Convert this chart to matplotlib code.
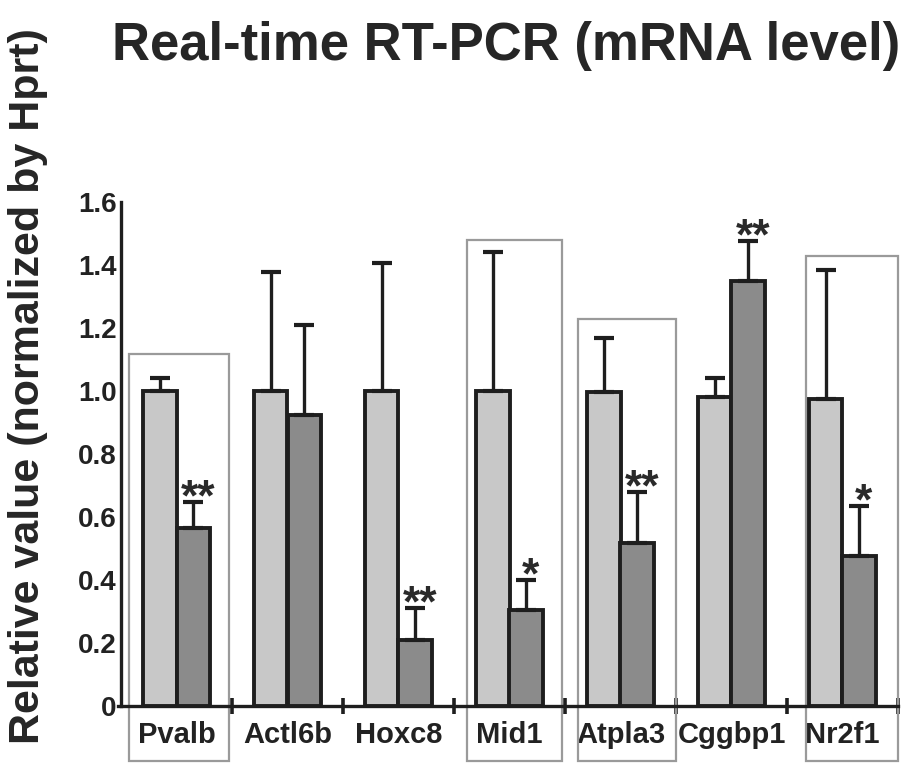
import matplotlib
matplotlib.use("Agg")
import matplotlib.pyplot as plt
from matplotlib.patches import Rectangle
import numpy as np

plt.rcParams['font.family'] = ['Liberation Sans', 'DejaVu Sans']

# ---- data ----
genes = ['Pvalb', 'Actl6b', 'Hoxc8', 'Mid1', 'Atpla3', 'Cggbp1', 'Nr2f1']
control = [1.00, 1.00, 1.00, 1.00, 0.997, 0.98, 0.975]
control_err = [0.04, 0.378, 0.405, 0.44, 0.17, 0.06, 0.41]
treated = [0.565, 0.924, 0.21, 0.305, 0.517, 1.35, 0.476]
treated_err = [0.083, 0.285, 0.10, 0.095, 0.163, 0.126, 0.16]
significance = ['**', '', '**', '*', '**', '**', '*']
yticks = [0, 0.2, 0.4, 0.6, 0.8, 1.0, 1.2, 1.4, 1.6]
ytick_labels = ['0', '0.2', '0.4', '0.6', '0.8', '1.0', '1.2', '1.4', '1.6']

# highlighted genes (frames)
boxed = ['Pvalb', 'Mid1', 'Atpla3', 'Nr2f1']
box_top = [1.117, 1.479, 1.229, 1.429]
box_left = [-0.43, -0.38, -0.38, -0.33]
box_right = [0.47, 0.47, 0.50, 0.50]

# ---- figure ----
fig = plt.figure(figsize=(9.10, 7.64), dpi=100)
ax = fig.add_axes([121 / 910, 58 / 764, (898 - 121) / 910, (706 - 202) / 764])

x = np.arange(len(genes))
w = 0.305
edge = '#1e1e1e'
ax.bar(x - w / 2, control, width=w, color='#c8c8c8', edgecolor=edge, linewidth=2.8, zorder=3)
ax.bar(x + w / 2, treated, width=w, color='#8b8b8b', edgecolor=edge, linewidth=2.8, zorder=3)

zeros = np.zeros(len(genes))
ax.errorbar(x - w / 2, control, yerr=[zeros, control_err], fmt='none', ecolor=edge,
            elinewidth=2.4, capsize=7, capthick=3, zorder=4)
ax.errorbar(x + w / 2, treated, yerr=[zeros, treated_err], fmt='none', ecolor=edge,
            elinewidth=2.4, capsize=7, capthick=3, zorder=4)

for xi, t, e, s in zip(x, treated, treated_err, significance):
    if s:
        ax.annotate(s, xy=(xi + w / 2 + 0.04, t + e), xytext=(0, -6), textcoords='offset points',
                    ha='center', va='baseline', fontsize=32, fontweight='bold',
                    color='#2a2a2a', zorder=5)

for g, top, l, r in zip(boxed, box_top, box_left, box_right):
    xi = genes.index(g)
    ax.add_patch(Rectangle((xi + l, -0.175), r - l, top + 0.175, fill=False,
                           edgecolor='#9a9a9a', linewidth=1.6, clip_on=False, zorder=2))

ax.set_xlim(-0.5, len(genes) - 0.5)
ax.set_ylim(0, 1.6)
ax.spines['top'].set_visible(False)
ax.spines['right'].set_visible(False)
for sp in ('left', 'bottom'):
    ax.spines[sp].set_linewidth(2.4)
    ax.spines[sp].set_color(edge)
ax.spines['bottom'].set_bounds(-0.53, len(genes) - 0.5)

ax.set_yticks(yticks)
ax.set_yticklabels(ytick_labels, fontsize=20, fontweight='bold', color='#222222')
ax.set_yticks([1.6], minor=True)
ax.tick_params(axis='y', which='major', length=0, pad=3)
ax.tick_params(axis='y', which='minor', direction='in', length=6, width=2, color=edge)

ax.set_xticks(x)
ax.set_xticklabels(genes, fontsize=21, fontweight='bold', color='#222222')
ax.set_xticks(np.arange(len(genes)) + 0.5, minor=True)
ax.tick_params(axis='x', which='major', length=0, pad=11)
ax.tick_params(axis='x', which='minor', direction='inout', length=12, width=2.6, color=edge)

fig.text(28 / 910, 1 - 386 / 764, 'Relative value (normalized by Hprt)', rotation=90,
         ha='center', va='center', fontsize=31, fontweight='bold', color='#262626')
fig.text(506 / 910, 1 - 60 / 764, 'Real-time RT-PCR (mRNA level)', ha='center', va='baseline',
         fontsize=38, fontweight='bold', color='#262626')

fig.savefig('out.png', dpi=100)
